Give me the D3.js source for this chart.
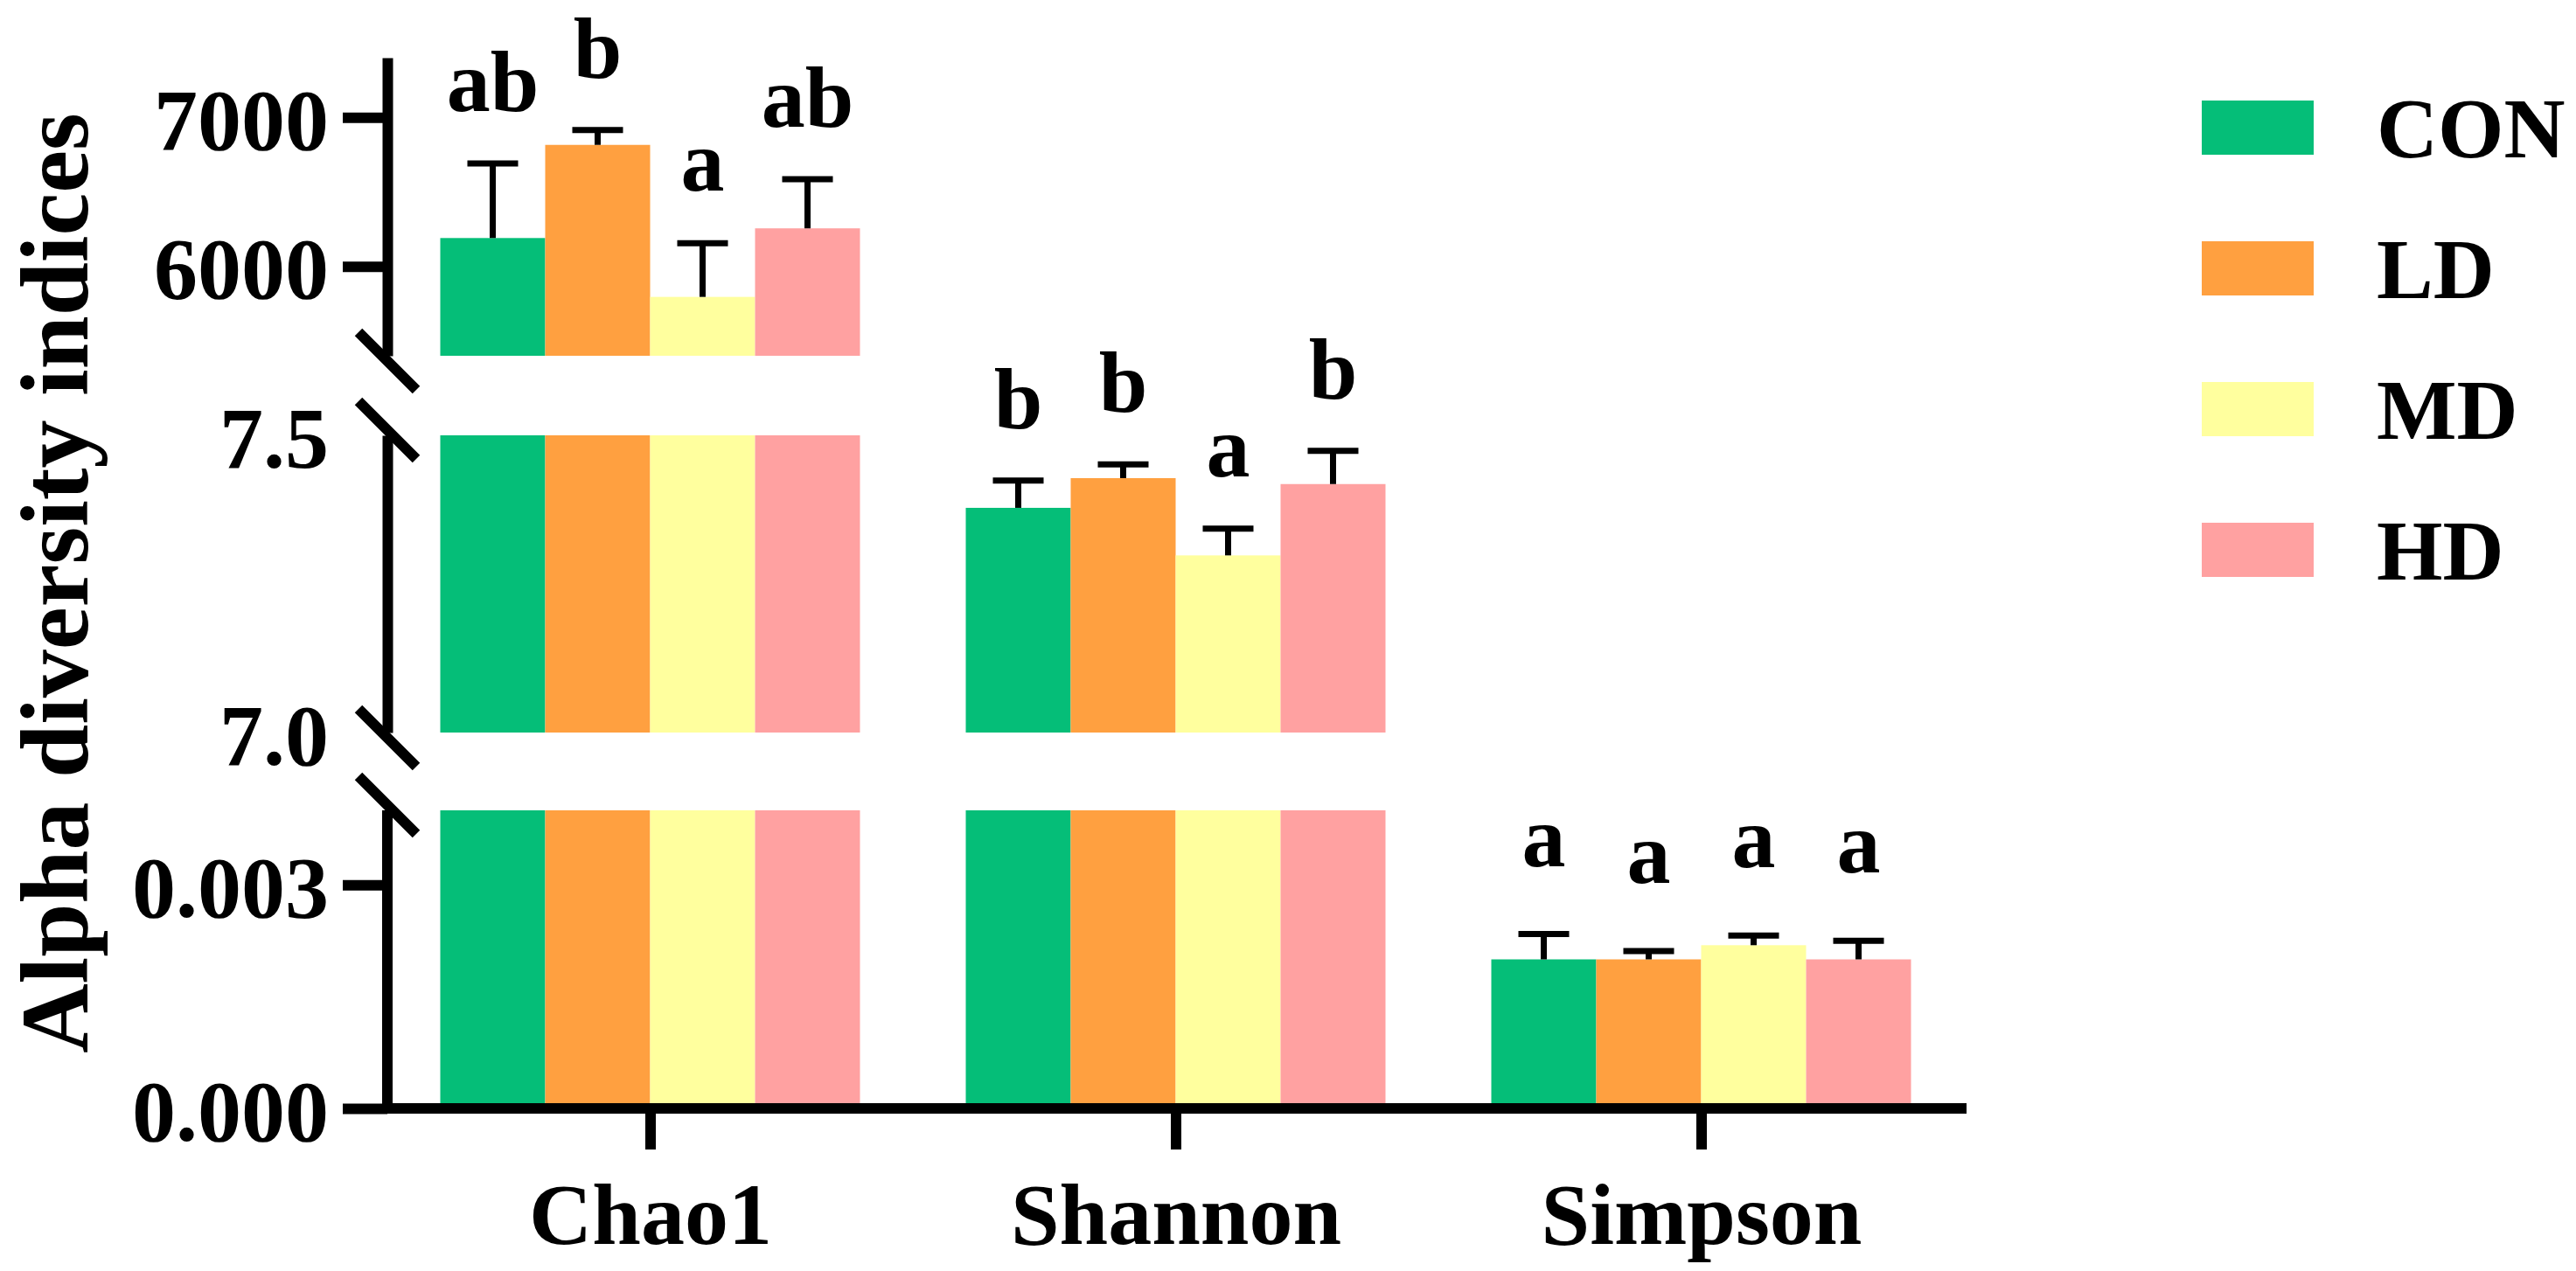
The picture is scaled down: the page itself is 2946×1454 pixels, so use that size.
<!DOCTYPE html>
<html>
<head>
<meta charset="utf-8">
<script src="https://cdn.jsdelivr.net/npm/d3@7"></script>
<style>
body { margin: 0; background: #fff; }
svg { display: block; }
</style>
</head>
<body>
<script>
const indices = ["Chao1", "Shannon", "Simpson"];
const groups = ["CON", "LD", "MD", "HD"];
const colors = ["#05BE78", "#FFA040", "#FFFF9E", "#FFA1A1"];

const chao1Mean = [6190, 6815, 5795, 6255];
const chao1Sd = [500, 100, 360, 330];
const shannonMean = [7.378, 7.428, 7.298, 7.418];
const shannonSd = [0.046, 0.023, 0.045, 0.056];
const simpsonMean = [0.0020, 0.0020, 0.00219, 0.0020];
const simpsonSd = [0.00034, 0.00011, 0.00013, 0.00025];

const letters = [
    ["ab", "b", "a", "ab"],
    ["b", "b", "a", "b"],
    ["a", "a", "a", "a"]
];

// broken y axis, segments listed bottom to top
const segDomains = [[0, 0.004], [7.0, 7.5], [5400, 7400]];
const segTicks = [[0, 0.003], [7.0, 7.5], [6000, 7000]];
const segFormats = [".3f", ".1f", "d"];

const FONT = "'Liberation Serif'";

const width = 2946;
const height = 1454;
const axisX = 443;
const segRanges = [[1268, 927], [838, 498], [407, 66]];

const svg = d3.select("body").append("svg")
    .attr("width", width)
    .attr("height", height);

const means = [chao1Mean, shannonMean, simpsonMean];
const sds = [chao1Sd, shannonSd, simpsonSd];

const segScales = segDomains.map((d, i) => d3.scaleLinear().domain(d).range(segRanges[i]));

const x0 = d3.scalePoint().domain(indices).range([443, 2246]).padding(0.5);
const x1 = d3.scaleBand().domain(groups).range([-240, 240]);

function boldText(sel, size) {
    sel.attr("font-family", null)
        .style("font-family", FONT)
        .style("font-weight", "bold")
        .style("font-size", size + "px")
        .attr("fill", "#000");
}

// bars, clipped to each axis segment
const gBars = svg.append("g");
indices.forEach((idx, i) => {
    groups.forEach((grp, j) => {
        const m = means[i][j];
        segScales.forEach((sc, s) => {
            const [lo, hi] = sc.domain();
            if (m <= lo) return;
            const top = Math.min(m, hi);
            gBars.append("rect")
                .attr("x", x0(idx) + x1(grp))
                .attr("width", x1.bandwidth())
                .attr("y", sc(top))
                .attr("height", sc(lo) - sc(top))
                .attr("fill", colors[j]);
        });
    });
});

// error bars (upper only) and letters
const gErr = svg.append("g");
indices.forEach((idx, i) => {
    groups.forEach((grp, j) => {
        const m = means[i][j];
        const sd = sds[i][j];
        const sc = segScales.find(s => m >= s.domain()[0] && m <= s.domain()[1]);
        const cx = x0(idx) + x1(grp) + x1.bandwidth() / 2;
        gErr.append("line")
            .attr("x1", cx).attr("x2", cx)
            .attr("y1", sc(m)).attr("y2", sc(m + sd))
            .attr("stroke", "#000").attr("stroke-width", 7);
        gErr.append("line")
            .attr("x1", cx - 29).attr("x2", cx + 29)
            .attr("y1", sc(m + sd)).attr("y2", sc(m + sd))
            .attr("stroke", "#000").attr("stroke-width", 7);
        gErr.append("text")
            .attr("x", cx)
            .attr("y", sc(m + sd) - (i === 2 ? 78 : 60))
            .attr("text-anchor", "middle")
            .call(boldText, 100)
            .text(letters[i][j]);
    });
});

// y axis segments
segScales.forEach((sc, s) => {
    const ax = svg.append("g")
        .attr("transform", `translate(${axisX},0)`)
        .call(d3.axisLeft(sc)
            .tickValues(segTicks[s])
            .tickFormat(d3.format(segFormats[s]))
            .tickSize(51)
            .tickSizeOuter(0)
            .tickPadding(16));
    ax.attr("font-family", null).attr("font-size", null);
    ax.select(".domain").attr("stroke-width", 12);
    if (s === 0) ax.select(".domain").attr("d", `M0,${sc.range()[0] + 6}V${sc.range()[1]}`);
    ax.selectAll(".tick line")
        .attr("stroke-width", 12)
        .attr("stroke", s === 1 ? "none" : "#000");
    ax.selectAll(".tick text")
        .attr("dy", "0.36em")
        .call(boldText, 100);
});

// break marks
const breaks = [];
segScales.forEach((sc, s) => {
    if (s > 0) breaks.push(sc.range()[0] + 6);
    if (s < segScales.length - 1) breaks.push(sc.range()[1] - 6);
});
svg.append("g").selectAll("line")
    .data(breaks)
    .join("line")
    .attr("x1", axisX - 33).attr("y1", d => d - 33)
    .attr("x2", axisX + 33).attr("y2", d => d + 33)
    .attr("stroke", "#000")
    .attr("stroke-width", 12);

// x axis
const xa = svg.append("g")
    .attr("transform", `translate(0,${segRanges[0][0]})`)
    .call(d3.axisBottom(x0).tickSize(47).tickSizeOuter(0).tickPadding(37));
xa.attr("font-family", null).attr("font-size", null);
xa.select(".domain").attr("d", `M${axisX - 6},0H2249`).attr("stroke-width", 12);
xa.selectAll(".tick line").attr("stroke-width", 12);
xa.selectAll(".tick text").call(boldText, 100);

// y title
svg.append("text")
    .attr("transform", "translate(100,667) rotate(-90)")
    .attr("text-anchor", "middle")
    .call(boldText, 110)
    .text("Alpha diversity indices");

// legend
const legend = svg.append("g").attr("transform", "translate(2518,146)");
const lg = legend.selectAll("g")
    .data(groups)
    .join("g")
    .attr("transform", (d, i) => `translate(0,${i * 161})`);
lg.append("rect")
    .attr("x", 0).attr("y", -31)
    .attr("width", 128).attr("height", 62)
    .attr("fill", (d, i) => colors[i]);
lg.append("text")
    .attr("x", 200)
    .attr("dy", "0.35em")
    .call(boldText, 97)
    .text(d => d);
</script>
</body>
</html>
